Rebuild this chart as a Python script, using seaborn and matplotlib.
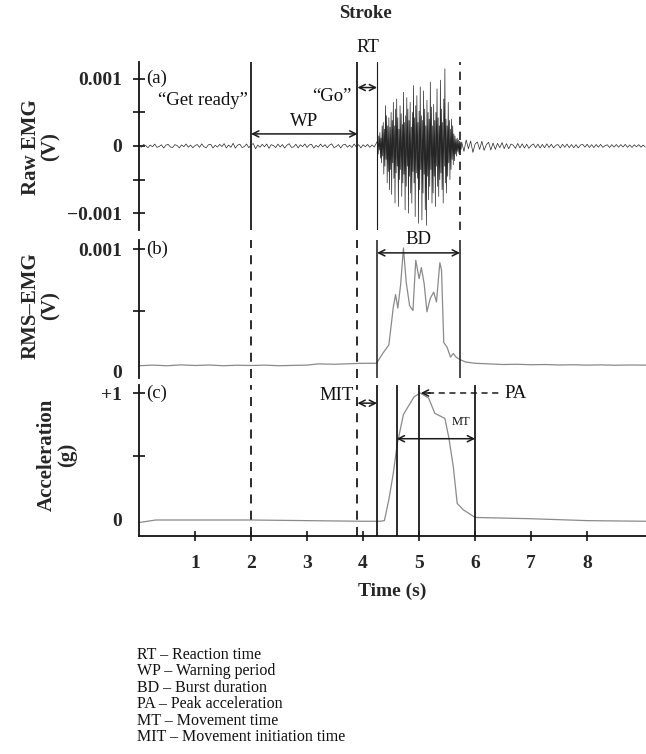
import numpy as np
import matplotlib
matplotlib.use('Agg')
import matplotlib.pyplot as plt
import seaborn as sns

sns.set_theme(style='white')
plt.rcParams['font.family'] = ['Liberation Serif', 'DejaVu Serif']

# ---- data ----
# raw EMG in microvolts: baseline before the burst (every 0.04 s from 0 s)
raw_pre = [10, -18, 22, 5, -25, 15, -12, 28, -20, -8, 18, -30, 12, 25, -15, -22, 20, 8, -28, 16,
           -10, 30, -18, 14, -26, 6, 22, -20, 32, -12, -24, 18, 26, -30, 10, -16, 24, -8, 35, -28,
           15, -20, 40, -32, 12, 28, -22, -10, 30, -26, 18, 36, -40, 14, -18, 25, -12, 30, -35, 20,
           8, -24, 28, -16, 22, -30, 12, 34, -20, -14, 26, -28, 18, -10, 30, -22, 16, 24, -32, 10,
           -18, 28, -12, 20, -26, 14, 32, -24, -8, 22, -30, 16, 26, -18, 12, -22, 30, -14, 20, -28,
           18, -12, 24, -20, 16, -15]
# burst (every 0.01 s from 4.26 s)
raw_burst = [80, -120, 150, -60, 200, -180, 120, -250, 300, -150,
             350, -420, 250, -300, 600, -200, 450, -550, 300, -380,
             420, -650, 280, -350, 500, -720, 380, -250, 650, -480,
             300, -850, 550, -400, 700, -300, 420, -900, 250, -500,
             600, -350, 480, -750, 320, -550, 800, -420, 350, -950,
             450, -600, 720, -300, 550, -1000, 380, -450, 650, -700,
             280, -850, 500, -380, 900, -550, 420, -1050, 600, -400,
             750, -480, 350, -1150, 520, -650, 880, -350, 450, -1100,
             380, -700, 820, -420, 550, -950, 300, -1180, 680, -450,
             500, -800, 400, -600, 950, -350, 580, -850, 300, -700,
             620, -450, 380, -900, 500, -300, 850, -600, 420, -750,
             300, -500, 980, -400, 550, -650, 350, -850, 700, -300,
             1150, -550, 400, -700, 300, -450, 650, -250, 380, -500,
             250, -350, 400, -200, 300, -280, 180, -220, 150, -120,
             100, -150, 120, -80, 90, -110, 70, -90, 60, -50]
# after the burst (every 0.04 s from 5.76 s)
raw_post = [60, -80, 90, -40, 75, -95, 30, 60, -50, 70, -65, 20, 55, -60, 45, -50, 40, -25, 50, -38,
            35, -40, 30, 12, -35, 38, -28, 32, -30, 26, -34, 8, 30, -25, 28, -30, 24, -26, 32, -22,
            26, -28, 10, 22, -30, 25, -20, 28, -24, 22, -26, 20, -28, 14, 24, -18, 26, -22, 20, -24,
            22, -18, 24, -20, 6, 18, -22, 20, -16, 22, -18, 20, -15, 24, -20, 16, -22, 18, -12, 20,
            -18, 14, -16]

# RMS-EMG in millivolts
rms_t = [0.0, 0.25, 0.5, 0.75, 1.0, 1.25, 1.5, 1.75, 2.0, 2.25, 2.5, 2.75, 3.0,
         3.2, 3.5, 3.75, 4.0, 4.24,
         4.35, 4.46, 4.54, 4.58, 4.62, 4.67, 4.72, 4.77, 4.83, 4.89,
         4.94, 5.00, 5.04, 5.09, 5.14, 5.20, 5.26, 5.31, 5.37, 5.40,
         5.44, 5.50, 5.56, 5.61, 5.66, 5.73, 5.83,
         6.0, 6.25, 6.5, 6.75, 7.0, 7.25, 7.5, 7.75, 8.0, 8.25, 8.5, 8.75, 9.05]
rms_v = [0.05, 0.055, 0.05, 0.057, 0.052, 0.056, 0.05, 0.054, 0.052, 0.055, 0.05, 0.053, 0.055,
         0.065, 0.062, 0.066, 0.07, 0.07,
         0.15, 0.22, 0.53, 0.63, 0.52, 0.71, 1.01, 0.73, 0.54, 0.50,
         0.91, 0.76, 0.85, 0.72, 0.49, 0.60, 0.65, 0.57, 0.89, 0.83,
         0.24, 0.20, 0.12, 0.15, 0.12, 0.10, 0.08,
         0.07, 0.065, 0.06, 0.062, 0.058, 0.06, 0.056, 0.058, 0.055, 0.057, 0.054, 0.056, 0.055]

# acceleration in g
acc_t = [0.0, 0.3, 1.0, 2.0, 3.0, 4.0, 4.3, 4.38, 4.46, 4.54, 4.61, 4.72, 4.80, 4.91, 5.02,
         5.17, 5.28, 5.46, 5.53, 5.61, 5.68, 5.79, 6.0, 7.0, 8.0, 9.05]
acc_v = [-0.02, 0.0, 0.0, 0.0, -0.005, -0.01, -0.01, -0.005, 0.16, 0.37, 0.60, 0.83, 0.89, 0.97, 1.0,
         0.96, 0.84, 0.80, 0.65, 0.42, 0.13, 0.08, 0.02, 0.01, -0.005, -0.01]

# event times (s)
t_ready, t_go, t_onset, t_burst_end = 2.0, 3.9, 4.25, 5.73
t_mt_start, t_peak, t_mt_end = 4.6, 5.0, 6.0

legend_lines = ['RT – Reaction time', 'WP – Warning period', 'BD – Burst duration',
                'PA – Peak acceleration', 'MT – Movement time', 'MIT – Movement initiation time']

# ---- figure ----
W, H = 646, 754
fig = plt.figure(figsize=(W / 100, H / 100), dpi=100)


def box(top, bottom, left=139, right=646):
    return [left / W, 1 - bottom / H, (right - left) / W, (bottom - top) / H]


ax_a = fig.add_axes(box(62, 230))
ax_b = fig.add_axes(box(240, 378))
ax_c = fig.add_axes(box(385, 536))

t_raw = np.concatenate([np.arange(len(raw_pre)) * 0.04,
                        4.26 + np.arange(len(raw_burst)) * 0.01,
                        5.76 + np.arange(len(raw_post)) * 0.04])
v_raw = np.array(raw_pre + raw_burst + raw_post) * 1e-6

sns.lineplot(x=t_raw, y=v_raw, ax=ax_a, color='#262626', lw=0.5, estimator=None, sort=False)
sns.lineplot(x=rms_t, y=np.array(rms_v) * 1e-3, ax=ax_b, color='#8a8a8a', lw=0.9, estimator=None)
sns.lineplot(x=acc_t, y=acc_v, ax=ax_c, color='#8a8a8a', lw=0.9, estimator=None)

tickfont = dict(fontsize=14, fontweight='bold')
dash = (0, (5, 4))

for ax in (ax_a, ax_b, ax_c):
    ax.set_xlim(0, 9.05)
    for s in ('top', 'right'):
        ax.spines[s].set_visible(False)
    ax.spines['left'].set_linewidth(1.3)
    ax.spines['left'].set_color('#111')
    ax.tick_params(axis='y', left=True, direction='inout', length=8, width=1.2, color='#111', pad=8)
    ax.set_facecolor('none')
    ax.set_ylabel('')
    ax.set_xlabel('')

for ax in (ax_a, ax_b):
    ax.spines['bottom'].set_visible(False)
    ax.set_xticks([])

# panel a
ax_a.set_ylim(-1.25e-3, 1.25e-3)
ax_a.set_yticks([-1e-3, -0.5e-3, 0, 0.5e-3, 1e-3])
ax_a.set_yticklabels(['−0.001', '', '0', '', '0.001'], **tickfont)
ax_a.axvline(t_ready, color='k', lw=1.3)
ax_a.axvline(t_go, color='k', lw=1.3)
ax_a.axvline(t_onset, color='k', lw=0.8)
ax_a.axvline(t_burst_end, color='k', lw=1.2, ls=dash)

# panel b
ax_b.set_ylim(-0.05e-3, 1.075e-3)
ax_b.set_yticks([0, 0.5e-3, 1e-3])
ax_b.set_yticklabels(['0', '', '0.001'], **tickfont)
ax_b.axvline(t_ready, color='k', lw=1.3, ls=dash)
ax_b.axvline(t_go, color='k', lw=1.3, ls=dash)
ax_b.axvline(t_onset, color='k', lw=1.1)
ax_b.axvline(t_burst_end, color='k', lw=1.1)

# panel c
ax_c.set_ylim(-0.126, 1.063)
ax_c.set_yticks([0, 0.5, 1])
ax_c.set_yticklabels(['0', '', '+1'], **tickfont)
ax_c.spines['bottom'].set_linewidth(1.3)
ax_c.spines['bottom'].set_color('#111')
ax_c.set_xticks(range(1, 9))
ax_c.set_xticklabels([str(i) for i in range(1, 9)], **tickfont)
ax_c.tick_params(axis='x', bottom=True, direction='inout', length=7, width=1.2, color='#111', pad=10)
ax_c.set_xlabel('Time (s)', fontsize=14, fontweight='bold', labelpad=8)
ax_c.axvline(t_ready, color='k', lw=1.3, ls=dash)
ax_c.axvline(t_go, color='k', lw=1.3, ls=dash)
for tv in (t_onset, t_mt_start, t_peak, t_mt_end):
    ax_c.axvline(tv, color='k', lw=1.3)

for ax in (ax_b, ax_c):
    ax.yaxis.get_major_ticks()[0].tick1line.set_visible(False)

# arrows and annotations
arrow = dict(arrowstyle='<->', lw=1.1, color='k', shrinkA=0, shrinkB=0, mutation_scale=11)
lab = dict(fontsize=13.5, color='#111')

ax_a.text(0.12, 1e-3, '(a)', va='center', ha='left', **lab)
ax_a.text(1.95, 0.68e-3, '“Get ready”', va='center', ha='right', **lab)
ax_a.text(3.8, 0.73e-3, '“Go”', va='center', ha='right', **lab)
ax_a.text(2.95, 0.36e-3, 'WP', va='center', ha='center', **lab)
ax_a.annotate('', xy=(t_go, 0.18e-3), xytext=(t_ready, 0.18e-3), arrowprops=arrow)
ax_a.annotate('', xy=(t_onset, 0.87e-3), xytext=(t_go, 0.87e-3), arrowprops=arrow)
ax_a.text(4.08, 1.47e-3, 'RT', va='center', ha='center', **lab)

ax_b.text(0.12, 1e-3, '(b)', va='center', ha='left', **lab)
ax_b.text(4.99, 1.08e-3, 'BD', va='center', ha='center', **lab)
ax_b.annotate('', xy=(t_burst_end, 0.97e-3), xytext=(t_onset, 0.97e-3), arrowprops=arrow)

ax_c.text(0.12, 1.0, '(c)', va='center', ha='left', **lab)
ax_c.text(3.83, 0.98, 'MIT', va='center', ha='right', **lab)
ax_c.annotate('', xy=(t_onset, 0.92), xytext=(t_go, 0.92), arrowprops=arrow)
ax_c.plot([t_peak + 0.15, 6.45], [1.0, 1.0], color='k', lw=1.1, ls=(0, (4, 3)))
ax_c.annotate('', xy=(t_peak + 0.03, 1.0), xytext=(t_peak + 0.2, 1.0),
              arrowprops=dict(arrowstyle='->', lw=1.1, color='k', shrinkA=0, shrinkB=0, mutation_scale=11))
ax_c.text(6.52, 1.0, 'PA', va='center', ha='left', **lab)
ax_c.annotate('', xy=(t_mt_end, 0.64), xytext=(t_mt_start, 0.64), arrowprops=arrow)
ax_c.text(5.74, 0.77, 'MT', va='center', ha='center', fontsize=9, color='#111')

# titles and axis labels
fig.text(365 / W, 1 - 14 / H, 'Stroke', ha='center', va='center', fontsize=13.5, fontweight='bold')
ylab = dict(rotation=90, ha='center', va='center', fontsize=15, fontweight='bold',
            multialignment='center', linespacing=1.0)
fig.text(41 / W, 1 - 147 / H, 'Raw EMG\n(V)', **ylab)
fig.text(41 / W, 1 - 306 / H, 'RMS–EMG\n(V)', **ylab)
fig.text(57 / W, 1 - 455 / H, 'Acceleration\n(g)', **ylab)

for i, line in enumerate(legend_lines):
    fig.text(137 / W, 1 - (655 + i * 16.4) / H, line, ha='left', va='center', fontsize=11.5, color='#111')

fig.savefig('out.png', dpi=100, facecolor='white')
